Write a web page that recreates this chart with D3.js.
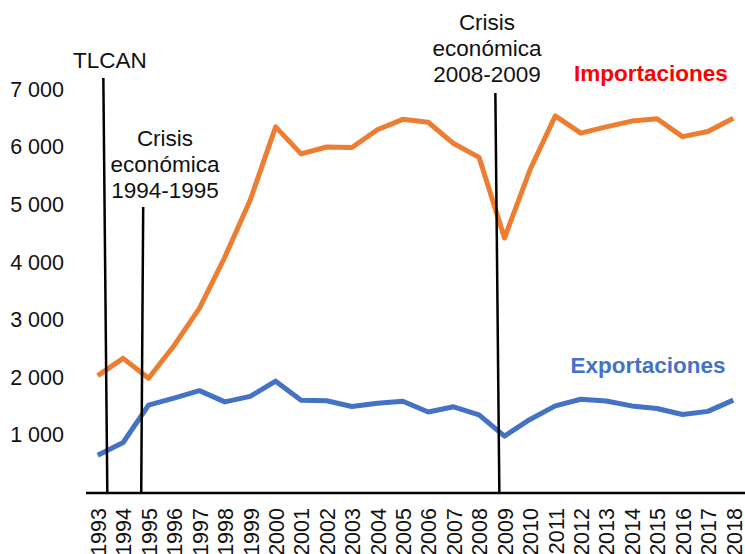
<!DOCTYPE html>
<html>
<head>
<meta charset="utf-8">
<script src="https://cdnjs.cloudflare.com/ajax/libs/d3/7.8.5/d3.min.js"></script>
<style>
  body { margin: 0; background: #fff; }
  svg { display: block; font-family: Arial, "Liberation Sans", sans-serif; }
</style>
</head>
<body>
<div id="chart"></div>
<script>
// years on the x axis
const years = ["1993","1994","1995","1996","1997","1998","1999","2000","2001","2002",
  "2003","2004","2005","2006","2007","2008","2009","2010","2011","2012",
  "2013","2014","2015","2016","2017","2018"];

// series values
const importaciones = [2030, 2330, 1985, 2550, 3200, 4090, 5080, 6350, 5880, 6000,
  5990, 6300, 6480, 6430, 6060, 5820, 4420, 5600, 6540, 6240,
  6350, 6450, 6490, 6180, 6270, 6500];
const exportaciones = [650, 870, 1520, 1640, 1770, 1575, 1670, 1935, 1605, 1595,
  1495, 1550, 1585, 1400, 1490, 1350, 980, 1270, 1505, 1620,
  1590, 1505, 1460, 1355, 1410, 1605];

const yTicks = [1000, 2000, 3000, 4000, 5000, 6000, 7000];

// event markers: year where the line sits, fraction of a step after it
const events = [
  { label: ["TLCAN"], year: "1993", off: 0.3, top: 78, tilt: 4, textX: 110, textY: [60] },
  { label: ["Crisis", "económica", "1994-1995"], year: "1994", off: 0.75, top: 207, tilt: -2, textX: 165, textY: [138, 164, 190] },
  { label: ["Crisis", "económica", "2008-2009"], year: "2008", off: 0.72, top: 93, tilt: 4, textX: 487, textY: [22, 48, 74] }
];

makeChart();

function makeChart() {
  const width = 745, height = 554;
  const svg = d3.select("#chart").append("svg")
    .attr("width", width)
    .attr("height", height);

  const x = d3.scalePoint().domain(years).range([85, 746]).padding(0.5);
  const y = d3.scaleLinear().domain([0, 7000]).range([492.6, 89.4]);
  const step = x.step();

  // y tick labels only, no axis line
  const yAxis = svg.append("g")
    .attr("transform", "translate(64,0)")
    .call(d3.axisLeft(y).tickValues(yTicks).tickSize(0).tickPadding(0)
      .tickFormat(d => d3.format(",")(d).replace(",", " ")));
  yAxis.select(".domain").remove();
  yAxis.selectAll("text")
    .attr("font-size", 21.5)
    .attr("font-family", "Arial, 'Liberation Sans', sans-serif")
    .attr("fill", "#111");

  // x axis, rotated labels
  const xAxis = svg.append("g")
    .attr("transform", "translate(0,493)")
    .call(d3.axisBottom(x).tickSize(0).tickPadding(0));
  xAxis.select(".domain").remove();
  xAxis.append("line")
    .attr("x1", 86).attr("x2", 745)
    .attr("stroke", "#000").attr("stroke-width", 2.5);
  xAxis.selectAll(".tick text")
    .attr("font-size", 21.5)
    .attr("font-family", "Arial, 'Liberation Sans', sans-serif")
    .attr("fill", "#111")
    .attr("text-anchor", "end")
    .attr("transform", "rotate(-90)")
    .attr("x", -15)
    .attr("y", 0)
    .attr("dy", "0.36em");

  // lines
  const line = d3.line()
    .x((d, i) => x(years[i]))
    .y(d => y(d));

  svg.append("path")
    .datum(importaciones)
    .attr("fill", "none")
    .attr("stroke", "#ED7D31")
    .attr("stroke-width", 5)
    .attr("stroke-linejoin", "round")
    .attr("d", line);

  svg.append("path")
    .datum(exportaciones)
    .attr("fill", "none")
    .attr("stroke", "#4472C4")
    .attr("stroke-width", 5)
    .attr("stroke-linejoin", "round")
    .attr("d", line);

  // event lines and labels
  events.forEach(ev => {
    const xe = x(ev.year) + ev.off * step;
    svg.append("line")
      .attr("x1", xe - ev.tilt / 2).attr("y1", ev.top)
      .attr("x2", xe + ev.tilt / 2).attr("y2", 494)
      .attr("stroke", "#000").attr("stroke-width", 2.5);
    ev.label.forEach((t, i) => {
      svg.append("text")
        .attr("x", ev.textX)
        .attr("y", ev.textY[i])
        .attr("dy", "0.36em")
        .attr("text-anchor", "middle")
        .attr("font-size", 22.5)
        .attr("fill", "#111")
        .text(t);
    });
  });

  // series labels
  svg.append("text")
    .attr("x", 651).attr("y", 73).attr("dy", "0.36em")
    .attr("text-anchor", "middle")
    .attr("font-size", 22.5).attr("font-weight", "bold")
    .attr("fill", "#FF0000")
    .text("Importaciones");

  svg.append("text")
    .attr("x", 648).attr("y", 365).attr("dy", "0.36em")
    .attr("text-anchor", "middle")
    .attr("font-size", 22.5).attr("font-weight", "bold")
    .attr("fill", "#4472C4")
    .text("Exportaciones");
}
</script>
</body>
</html>
